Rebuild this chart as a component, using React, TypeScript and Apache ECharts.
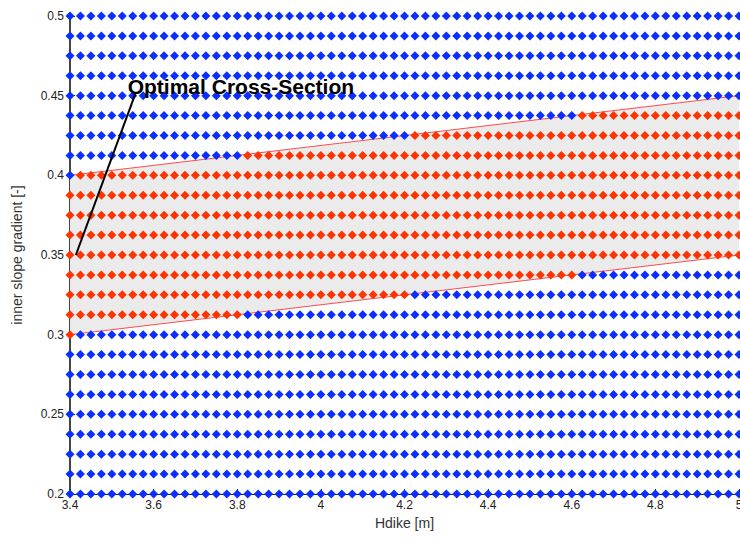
import React, { useEffect, useRef } from "react";
import * as echarts from "echarts";

// Evaluated design grid: dike height [m] and inner slope gradient [-]
const hdikeValues = [
  3.4, 3.425, 3.45, 3.475, 3.5, 3.525, 3.55, 3.575, 3.6, 3.625, 3.65, 3.675, 3.7,
  3.725, 3.75, 3.775, 3.8, 3.825, 3.85, 3.875, 3.9, 3.925, 3.95, 3.975, 4.0,
  4.025, 4.05, 4.075, 4.1, 4.125, 4.15, 4.175, 4.2, 4.225, 4.25, 4.275, 4.3,
  4.325, 4.35, 4.375, 4.4, 4.425, 4.45, 4.475, 4.5, 4.525, 4.55, 4.575, 4.6,
  4.625, 4.65, 4.675, 4.7, 4.725, 4.75, 4.775, 4.8, 4.825, 4.85, 4.875, 4.9,
  4.925, 4.95, 4.975, 5.0,
];
const slopeValues = [
  0.2, 0.2125, 0.225, 0.2375, 0.25, 0.2625, 0.275, 0.2875, 0.3, 0.3125, 0.325,
  0.3375, 0.35, 0.3625, 0.375, 0.3875, 0.4, 0.4125, 0.425, 0.4375, 0.45, 0.4625,
  0.475, 0.4875, 0.5,
];

// Feasible band: lower and upper limit of the slope at the two ends of the Hdike range
const bandHdike = [3.4, 5.0];
const bandLower = [0.3, 0.35];
const bandUpper = [0.4, 0.45];

// Optimal cross-section and its label anchor
const optimum = [3.4, 0.35];
const labelAnchor = [3.556, 0.451];
const labelText = "Optimal Cross-Section";

const xTicks = ["3.4", "3.6", "3.8", "4", "4.2", "4.4", "4.6", "4.8", "5"];

function limitAt(limits: number[], x: number) {
  const t = (x - bandHdike[0]) / (bandHdike[1] - bandHdike[0]);
  return limits[0] + t * (limits[1] - limits[0]);
}

const feasible: number[][] = [];
const infeasible: number[][] = [];
for (const y of slopeValues) {
  for (const x of hdikeValues) {
    const lo = limitAt(bandLower, x);
    const hi = limitAt(bandUpper, x);
    if (y >= lo - 1e-9 && y < hi - 1e-9) feasible.push([x, y]);
    else infeasible.push([x, y]);
  }
}

export default function App() {
  const ref = useRef<HTMLDivElement>(null);

  useEffect(() => {
    if (!ref.current) return;
    const chart = echarts.init(ref.current, undefined, { renderer: "svg" });
    const font = "'Liberation Sans', Arial, sans-serif";

    chart.setOption({
      animation: false,
      backgroundColor: "#ffffff",
      grid: {
        left: 70,
        right: 1,
        top: 16,
        bottom: 46,
        containLabel: false,
        outerBoundsMode: "none",
      },
      xAxis: {
        type: "value",
        min: 3.4,
        max: 5,
        interval: 0.2,
        name: "Hdike [m]",
        nameLocation: "middle",
        nameGap: 22,
        nameTextStyle: { fontFamily: font, fontSize: 14, color: "#333" },
        axisLine: { onZero: false, lineStyle: { color: "#222", width: 1 } },
        axisTick: { inside: true, length: 5, lineStyle: { color: "#222" } },
        axisLabel: {
          fontFamily: font,
          fontSize: 12,
          color: "#222",
          margin: 5,
          hideOverlap: false,
          formatter: (v: number) => {
            const i = Math.round((v - 3.4) / 0.2);
            return xTicks[i] ?? "";
          },
        },
        splitLine: { show: false },
      },
      yAxis: {
        type: "value",
        min: 0.2,
        max: 0.5,
        interval: 0.05,
        name: "inner slope gradient [-]",
        nameLocation: "middle",
        nameGap: 46,
        nameTextStyle: { fontFamily: font, fontSize: 14, color: "#333" },
        axisLine: { onZero: false, lineStyle: { color: "#444", width: 2 } },
        axisTick: { inside: true, length: 5, lineStyle: { color: "#222" } },
        axisLabel: {
          fontFamily: font,
          fontSize: 12,
          color: "#222",
          margin: 6,
          formatter: (v: number) => String(parseFloat(v.toFixed(3))),
        },
        splitLine: { show: false },
      },
      series: [
        {
          type: "custom",
          z: 1,
          silent: true,
          data: [0],
          renderItem: (_params: any, api: any) => {
            const pts = [
              api.coord([bandHdike[0], bandLower[0]]),
              api.coord([bandHdike[1], bandLower[1]]),
              api.coord([bandHdike[1], bandUpper[1]]),
              api.coord([bandHdike[0], bandUpper[0]]),
            ];
            return {
              type: "polygon",
              shape: { points: pts },
              style: { fill: "#ebebeb", stroke: "none" },
            };
          },
        },
        {
          type: "line",
          z: 2,
          silent: true,
          symbol: "none",
          data: bandHdike.map((x, i) => [x, bandUpper[i]]),
          lineStyle: { color: "#ff4a4a", width: 1 },
        },
        {
          type: "line",
          z: 2,
          silent: true,
          symbol: "none",
          data: bandHdike.map((x, i) => [x, bandLower[i]]),
          lineStyle: { color: "#ff4a4a", width: 1 },
        },
        {
          type: "scatter",
          z: 3,
          symbol: "diamond",
          symbolSize: 9,
          data: infeasible,
          itemStyle: { color: "#0a2eff", opacity: 1 },
        },
        {
          type: "scatter",
          z: 3,
          symbol: "diamond",
          symbolSize: 9,
          data: feasible,
          itemStyle: { color: "#ff3300", opacity: 1 },
        },
        {
          type: "line",
          z: 4,
          silent: true,
          symbol: "none",
          data: [
            [optimum[0] + 0.014, optimum[1]],
            labelAnchor,
          ],
          lineStyle: { color: "#000", width: 2 },
          markPoint: {
            symbol: "circle",
            symbolSize: 0,
            data: [{ coord: [labelAnchor[0] - 0.018, labelAnchor[1] + 0.005] }],
            label: {
              show: true,
              position: "right",
              distance: 0,
              formatter: labelText,
              fontFamily: font,
              fontSize: 21,
              fontWeight: "bold",
              color: "#000",
            },
          },
        },
      ],
    });

    return () => chart.dispose();
  }, []);

  return (
    <div
      ref={ref}
      style={{ position: "fixed", left: 0, top: 0, width: 740, height: 540 }}
    />
  );
}
